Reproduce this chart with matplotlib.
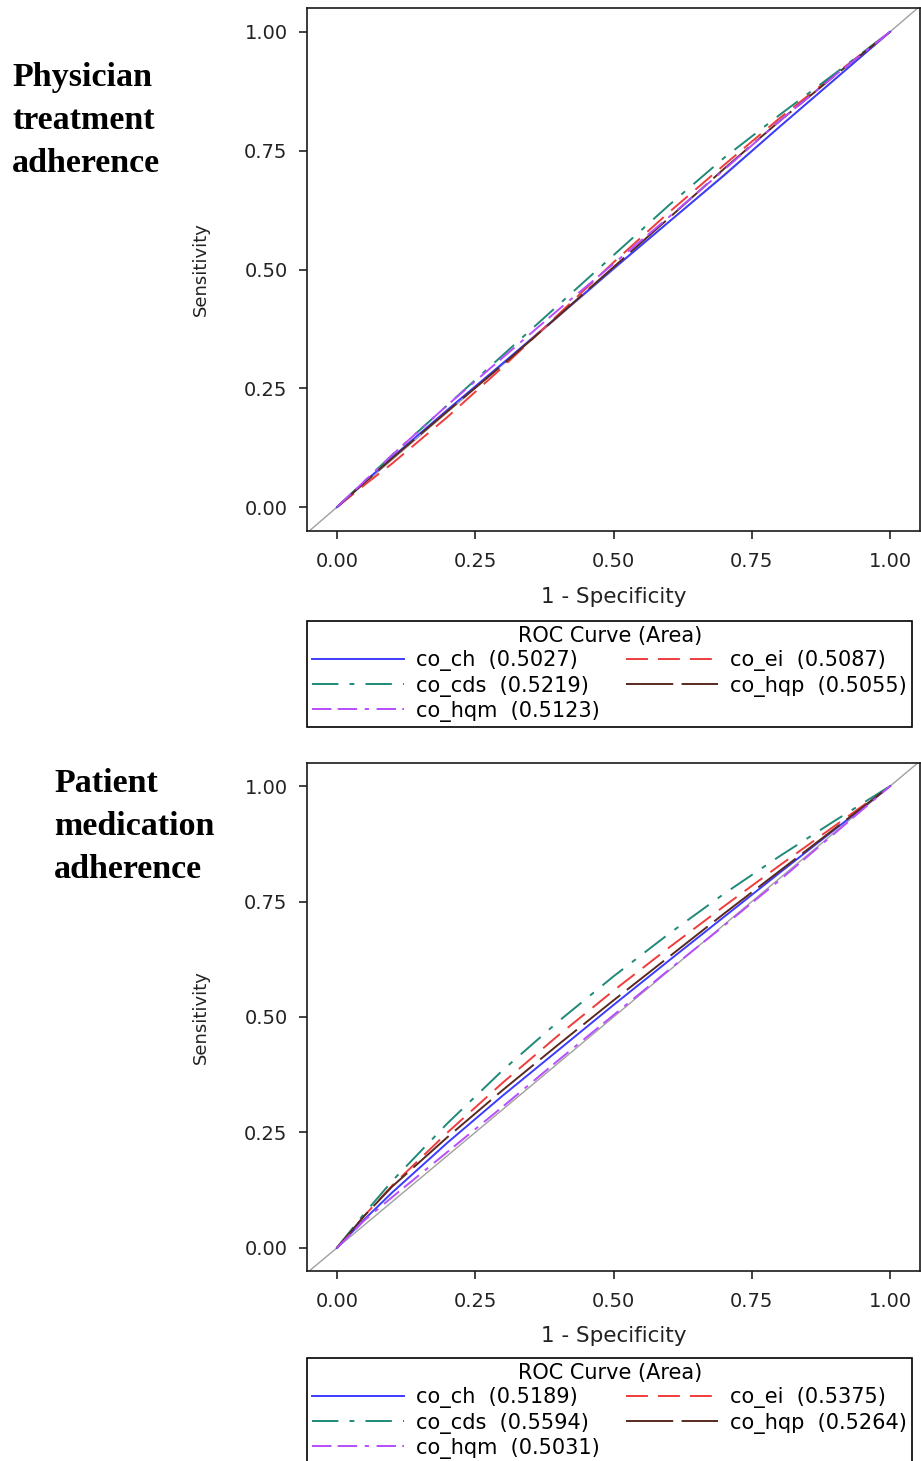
import matplotlib
matplotlib.use("Agg")
import matplotlib.pyplot as plt

plt.rcParams['font.family'] = ['DejaVu Sans']
plt.rcParams['lines.scale_dashes'] = False

# ROC points (1 - specificity grid, sensitivity per curve)
fpr = [0, 0.05, 0.1, 0.2, 0.3, 0.4, 0.5, 0.6, 0.7, 0.8, 0.9, 1.0]

series = ["co_ch", "co_ei", "co_cds", "co_hqp", "co_hqm"]

# physician treatment adherence
phys_auc = [0.5027, 0.5087, 0.5219, 0.5055, 0.5123]
phys_ch = [0, 0.053, 0.105, 0.205, 0.303, 0.402, 0.502, 0.600, 0.698, 0.800, 0.900, 1]
phys_ei = [0, 0.047, 0.092, 0.190, 0.295, 0.405, 0.515, 0.620, 0.720, 0.818, 0.910, 1]
phys_cds = [0, 0.055, 0.110, 0.215, 0.320, 0.425, 0.530, 0.635, 0.735, 0.825, 0.912, 1]
phys_hqp = [0, 0.052, 0.103, 0.202, 0.300, 0.402, 0.505, 0.608, 0.712, 0.812, 0.908, 1]
phys_hqm = [0, 0.055, 0.110, 0.215, 0.315, 0.415, 0.512, 0.610, 0.710, 0.812, 0.908, 1]

# patient medication adherence
pat_auc = [0.5189, 0.5375, 0.5594, 0.5264, 0.5031]
pat_ch = [0, 0.062, 0.120, 0.228, 0.330, 0.428, 0.526, 0.622, 0.717, 0.812, 0.906, 1]
pat_ei = [0, 0.070, 0.135, 0.250, 0.358, 0.460, 0.557, 0.650, 0.740, 0.828, 0.914, 1]
pat_cds = [0, 0.075, 0.145, 0.270, 0.385, 0.490, 0.588, 0.680, 0.767, 0.848, 0.925, 1]
pat_hqp = [0, 0.070, 0.133, 0.240, 0.342, 0.440, 0.536, 0.630, 0.724, 0.816, 0.908, 1]
pat_hqm = [0, 0.060, 0.110, 0.208, 0.306, 0.406, 0.504, 0.602, 0.698, 0.796, 0.898, 1]

ticks = [0, 0.25, 0.5, 0.75, 1.0]
tick_labels = ["0.00", "0.25", "0.50", "0.75", "1.00"]

colors = ["#3c3cff", "#f03c3c", "#1f8a78", "#5a2a1e", "#b84cff"]
styles = ['-', (0, (15.8, 7.2)), (0, (19, 8, 3.5, 8)), (0, (34, 6)),
          (0, (14, 4.5, 14, 5.5, 3, 5.5))]
legend_order = [0, 2, 4, 1, 3]

W, H = 921, 1461


def draw_panel(ax, curves, aucs):
    ax.axline((0, 0), (1, 1), color="#a0a0a0", lw=1.0, zorder=1)
    lines = []
    for i, tpr in enumerate(curves):
        ln, = ax.plot(fpr, tpr, color=colors[i], ls=styles[i], lw=1.4, zorder=2)
        lines.append(ln)
    ax.set_xlim(-0.054, 1.054)
    ax.set_ylim(-0.05, 1.05)
    ax.set_xticks(ticks, tick_labels)
    ax.set_yticks(ticks, tick_labels)
    ax.tick_params(direction='out', length=6, width=1.2, labelsize=14,
                   colors='#222222')
    ax.tick_params(axis='x', pad=9)
    ax.tick_params(axis='y', pad=8)
    for sp in ax.spines.values():
        sp.set_linewidth(1.2)
        sp.set_color('#1a1a1a')
    ax.set_xlabel("1 - Specificity", fontsize=15.5, color='#222222')
    ax.set_ylabel("Sensitivity", fontsize=13, color='#222222')

    handles = [lines[i] for i in legend_order]
    labels = [f"{series[i]}  ({aucs[i]:.4f})" for i in legend_order]
    return handles, labels


def add_legend(ax, handles, labels, top):
    leg = ax.legend(handles, labels, ncol=2, loc='upper left', bbox_to_anchor=(0, top),
                    title="ROC Curve (Area)", fontsize=15, title_fontsize=15,
                    frameon=True, fancybox=False, edgecolor='black', framealpha=1,
                    borderaxespad=0, handlelength=4.42, handletextpad=0.58,
                    columnspacing=1.25, labelspacing=0.2, borderpad=0.25)
    leg.get_frame().set_linewidth(1.2)
    return leg


fig = plt.figure(figsize=(W / 100, H / 100), dpi=100)

ax1 = fig.add_axes([307 / W, 1 - 531 / H, 613 / W, 523 / H])
h, l = draw_panel(ax1, [phys_ch, phys_ei, phys_cds, phys_hqp, phys_hqm], phys_auc)
ax1.xaxis.set_label_coords(0.5, (531 - 587) / 523)
ax1.yaxis.set_label_coords((210 - 307) / 613, 0.5)
add_legend(ax1, h, l, (531 - 621) / 523)

ax2 = fig.add_axes([307 / W, 1 - 1271 / H, 613 / W, 508 / H])
h, l = draw_panel(ax2, [pat_ch, pat_ei, pat_cds, pat_hqp, pat_hqm], pat_auc)
ax2.xaxis.set_label_coords(0.5, (1271 - 1326) / 508)
ax2.yaxis.set_label_coords((210 - 307) / 613, 0.5)
add_legend(ax2, h, l, (1271 - 1358) / 508)

# panel titles on the left
title_font = dict(family='Liberation Serif', weight='bold', fontsize=24.5, va='baseline')
for k, word in enumerate(["Physician", "treatment", "adherence"]):
    fig.text(12 / W, 1 - (86 + 43 * k) / H, word, **title_font)
for k, word in enumerate(["Patient", "medication", "adherence"]):
    fig.text(54 / W, 1 - (792 + 43 * k) / H, word, **title_font)

fig.savefig("out.png", dpi=100)
